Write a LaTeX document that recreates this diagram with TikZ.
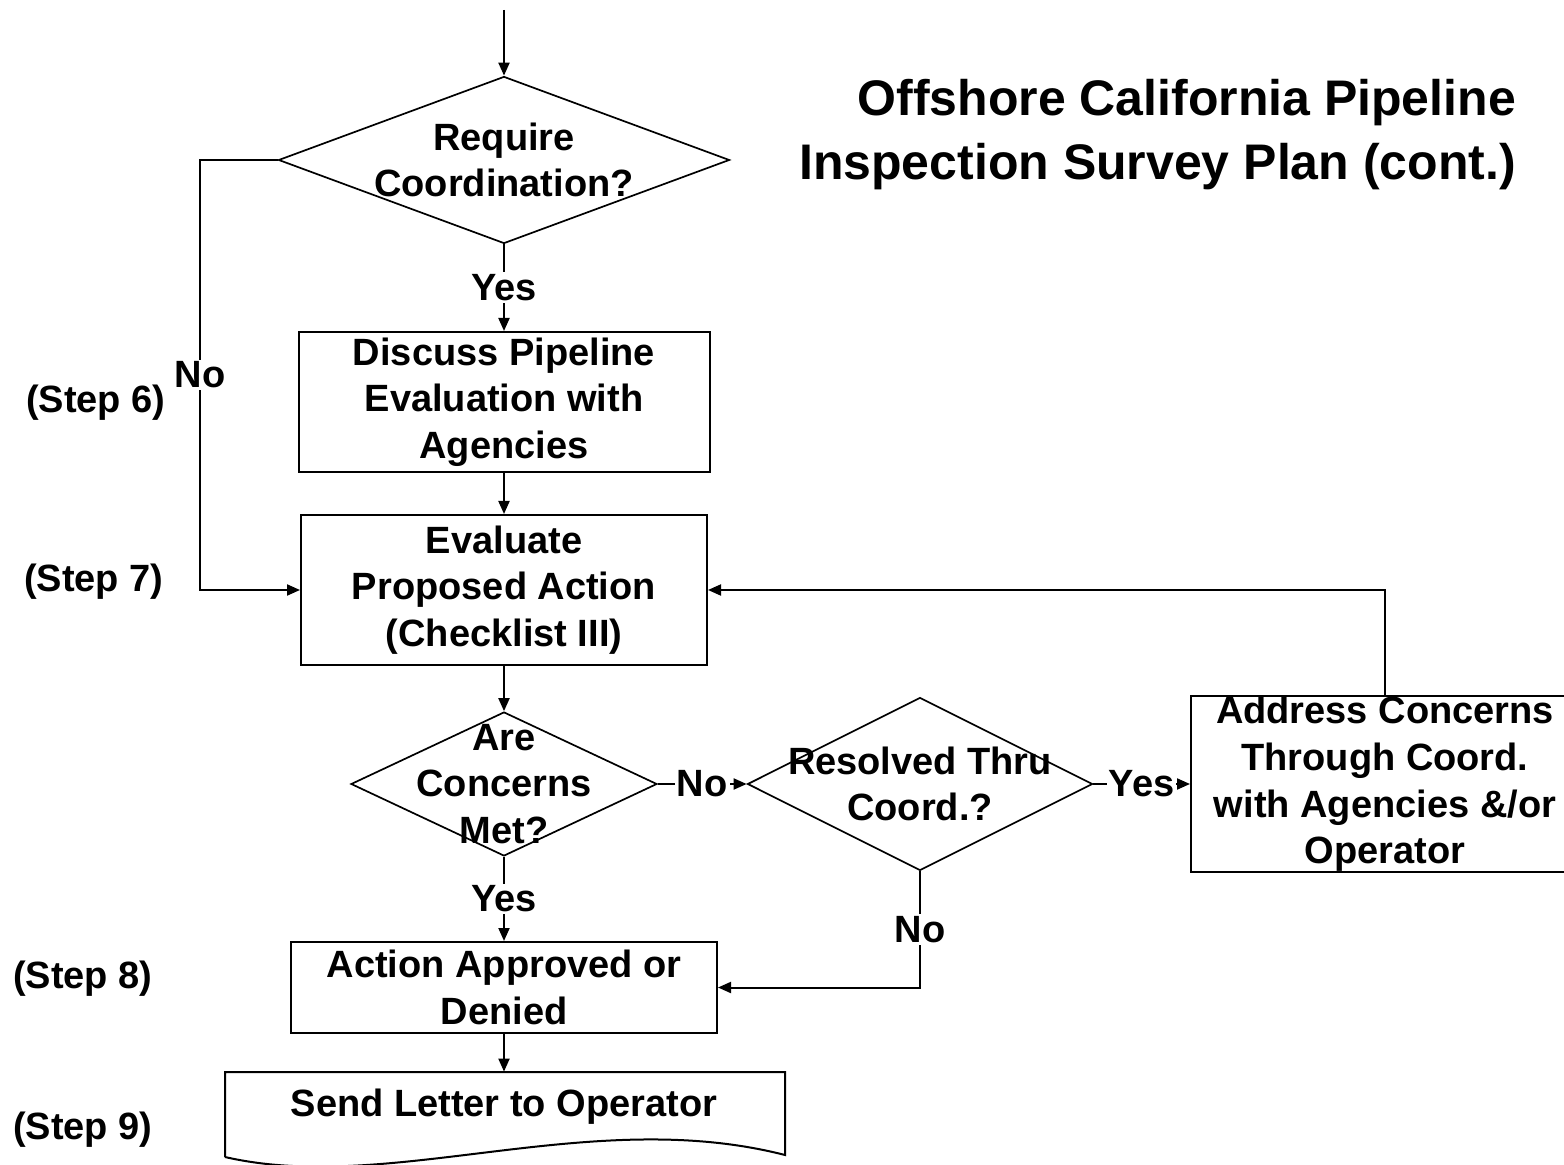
\documentclass[tikz,border=0pt]{standalone}
\usepackage{fontspec}
\setmainfont{Liberation Sans}
\usetikzlibrary{arrows.meta,shapes.geometric}
\definecolor{PlanInk}{HTML}{000000}
\definecolor{PlanPaper}{HTML}{FFFFFF}

\begin{document}
\begin{tikzpicture}[x=0.5pt,y=-0.5pt,
    box/.style={draw=PlanInk,line width=1pt,fill=PlanPaper,align=center,inner sep=0pt,
      font=\bfseries\fontsize{19}{23.3}\selectfont},
    decision/.style={diamond,draw=PlanInk,line width=0.85pt,inner sep=0pt,
      label={[align=center,font=\bfseries\fontsize{19}{23.3}\selectfont]center:#1}},
    flow/.style={-{Triangle[length=6.5pt,width=5.5pt]},draw=PlanInk,line width=1pt},
    answer/.style={fill=PlanPaper,inner sep=1pt,font=\bfseries\fontsize{19}{23}\selectfont},
    steptag/.style={anchor=west,font=\bfseries\fontsize{19}{23}\selectfont}]
        \fill[PlanPaper] (0,0) rectangle (1564,1165);
        \useasboundingbox (0,0) rectangle (1564,1165);

        \node[font=\bfseries\fontsize{25}{32}\selectfont,align=right,anchor=east]
          (title) at (1523,135) {Offshore California Pipeline\\Inspection Survey Plan (cont.)};

        \node[steptag] (step6) at (19,403) {(Step 6)};
        \node[steptag] (step7) at (17,582) {(Step 7)};
        \node[steptag] (step8) at (6,979) {(Step 8)};
        \node[steptag] (step9) at (6,1130) {(Step 9)};

        \coordinate (entry) at (504,10);
        \coordinate (nolane) at (200,0);

        \node[decision={Require\\Coordination?},minimum width=225.5pt,minimum height=83.5pt]
          (coord) at (504,160) {};
        \node[box,minimum width=205.5pt,minimum height=70pt]
          (discuss) at (504,402) {Discuss Pipeline\\Evaluation with\\Agencies};
        \node[box,minimum width=203pt,minimum height=75pt]
          (evaluate) at (504,590) {Evaluate\\Proposed Action\\(Checklist III)};
        \node[decision={Are\\Concerns\\Met?},minimum width=153pt,minimum height=72pt]
          (met) at (504,784) {};
        \node[decision={Resolved Thru\\Coord.?},minimum width=172.5pt,minimum height=86.5pt]
          (resolved) at (920,784) {};
        \node[box,minimum width=194pt,minimum height=87pt]
          (address) at (1385,784) {Address Concerns\\Through Coord.\\with Agencies \&/or\\Operator};
        \node[box,minimum width=213pt,minimum height=45.5pt]
          (decide) at (504,987.5) {Action Approved or\\Denied};
        \node[font=\bfseries\fontsize{19}{23}\selectfont,minimum width=280pt,minimum height=35pt,inner sep=0pt]
          (letter) at (504,1107) {Send Letter to Operator};

        % document outline with wavy foot
        \draw[PlanInk,line width=1pt] (225,1157) -- (225,1072) -- (785,1072) -- (785,1155)
          .. controls (590,1105) and (390,1195) .. (225,1157);

        \draw[flow] (entry) -- (coord.north);
        \draw[flow] (coord.south) -- node[answer] {Yes} (discuss.north);
        \draw[flow] (coord.west) -| node[answer,pos=0.75] {No} (nolane |- evaluate.west) -- (evaluate.west);
        \draw[flow] (discuss.south) -- (evaluate.north);
        \draw[flow] (evaluate.south) -- (met.north);
        \draw[flow] (met.east) -- node[answer] {No} (resolved.west);
        \draw[flow] (resolved.east) -- node[answer] {Yes} (address.west);
        \draw[flow] (address.north) |- (evaluate.east);
        \draw[flow] (resolved.south) |- node[answer,pos=0.25] {No} (decide.east);
        \draw[flow] (met.south) -- node[answer] {Yes} (decide.north);
        \draw[flow] (decide.south) -- (letter.north);
      \end{tikzpicture}
\end{document}
